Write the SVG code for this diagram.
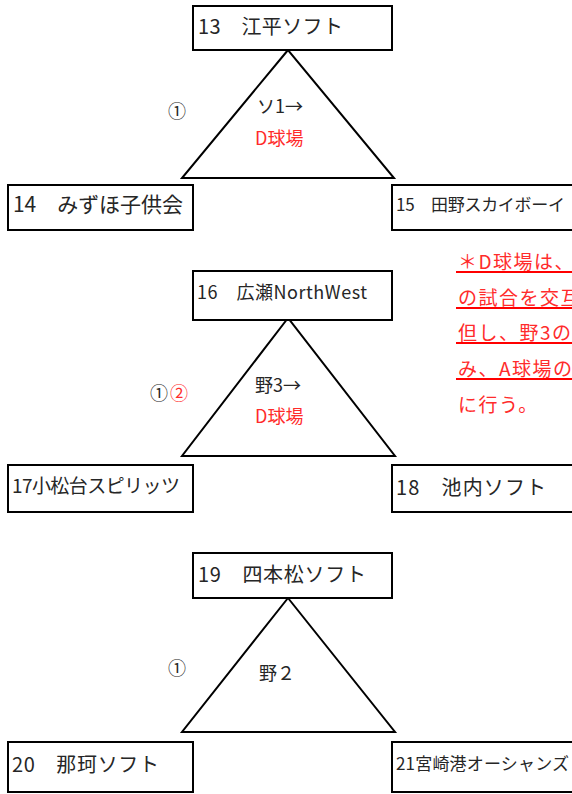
<svg xmlns="http://www.w3.org/2000/svg" width="572" height="794" viewBox="0 0 572 794">
<style>
  .box { fill: #ffffff; stroke: #000000; stroke-width: 2; }
  .tri { fill: none; stroke: #000000; stroke-width: 2; stroke-linejoin: miter; }
  .t { font-family: "Noto Sans CJK JP", "Liberation Sans", sans-serif; fill: #262626; }
  .r { font-family: "Noto Sans CJK JP", "Liberation Sans", sans-serif; fill: #ff2b2b; }
  .n { font-family: "Noto Sans CJK JP", "Liberation Sans", sans-serif; fill: #ff2b2b; font-size: 19px; letter-spacing: 1.5px; }
  .ul { stroke: #ff0000; stroke-width: 2; }
</style>
<rect x="0" y="0" width="572" height="794" fill="#ffffff"/>

<g id="connectors">
  <polygon class="tri" points="288,50 182,178 394,178"/>
  <polygon class="tri" points="288,318 182,456 395,456"/>
  <polygon class="tri" points="288,598 182,732 395,732"/>
</g>

<g id="n13">
  <rect class="box" x="193" y="6" width="199" height="44"/>
  <text class="t" x="198" y="34" font-size="20" textLength="145">13　江平ソフト</text>
</g>
<g id="n14">
  <rect class="box" x="8" y="185" width="185" height="45"/>
  <text class="t" x="13" y="212" font-size="21" textLength="170">14　みずほ子供会</text>
</g>
<g id="n15">
  <rect class="box" x="392" y="185" width="190" height="45"/>
  <text class="t" x="396" y="211" font-size="17" textLength="169">15　田野スカイボーイ</text>
</g>
<g id="label1">
  <text class="t" x="168" y="118" font-size="18">①</text>
  <text class="t" x="257" y="113" font-size="18">ソ1→</text>
  <text class="r" x="255" y="145" font-size="18">D球場</text>
</g>

<g id="n16">
  <rect class="box" x="193" y="271" width="199" height="49"/>
  <text class="t" x="197" y="299" font-size="18" textLength="170">16　広瀬NorthWest</text>
</g>
<g id="n17">
  <rect class="box" x="8" y="465" width="185" height="47"/>
  <text class="t" x="12" y="493" font-size="19" textLength="168">17小松台スピリッツ</text>
</g>
<g id="n18">
  <rect class="box" x="392" y="465" width="190" height="47"/>
  <text class="t" x="396" y="495" font-size="20" textLength="150">18　池内ソフト</text>
</g>
<g id="label2">
  <text class="t" x="150" y="400" font-size="18">①</text>
  <text class="r" x="170" y="400" font-size="18">②</text>
  <text class="t" x="255" y="392" font-size="18">野3→</text>
  <text class="r" x="255" y="423" font-size="18">D球場</text>
</g>

<g id="note">
  <text class="n" x="458" y="269">＊D球場は、</text>
  <line class="ul" x1="456" y1="272" x2="572" y2="272"/>
  <text class="n" x="458" y="305">の試合を交互</text>
  <line class="ul" x1="456" y1="308" x2="572" y2="308"/>
  <text class="n" x="458" y="340">但し、野3の</text>
  <line class="ul" x1="456" y1="343" x2="572" y2="343"/>
  <text class="n" x="458" y="376">み、A球場の</text>
  <line class="ul" x1="456" y1="379" x2="572" y2="379"/>
  <text class="n" x="458" y="412">に行う。</text>
</g>

<g id="n19">
  <rect class="box" x="193" y="553" width="199" height="45"/>
  <text class="t" x="198" y="582" font-size="20" textLength="168">19　四本松ソフト</text>
</g>
<g id="n20">
  <rect class="box" x="8" y="742" width="185" height="50"/>
  <text class="t" x="12" y="772" font-size="20" textLength="147">20　那珂ソフト</text>
</g>
<g id="n21">
  <rect class="box" x="392" y="742" width="190" height="50"/>
  <text class="t" x="396" y="770" font-size="17" textLength="173">21宮崎港オーシャンズ</text>
</g>
<g id="label3">
  <text class="t" x="168" y="675" font-size="18">①</text>
  <text class="t" x="259" y="680" font-size="18">野２</text>
</g>
</svg>
